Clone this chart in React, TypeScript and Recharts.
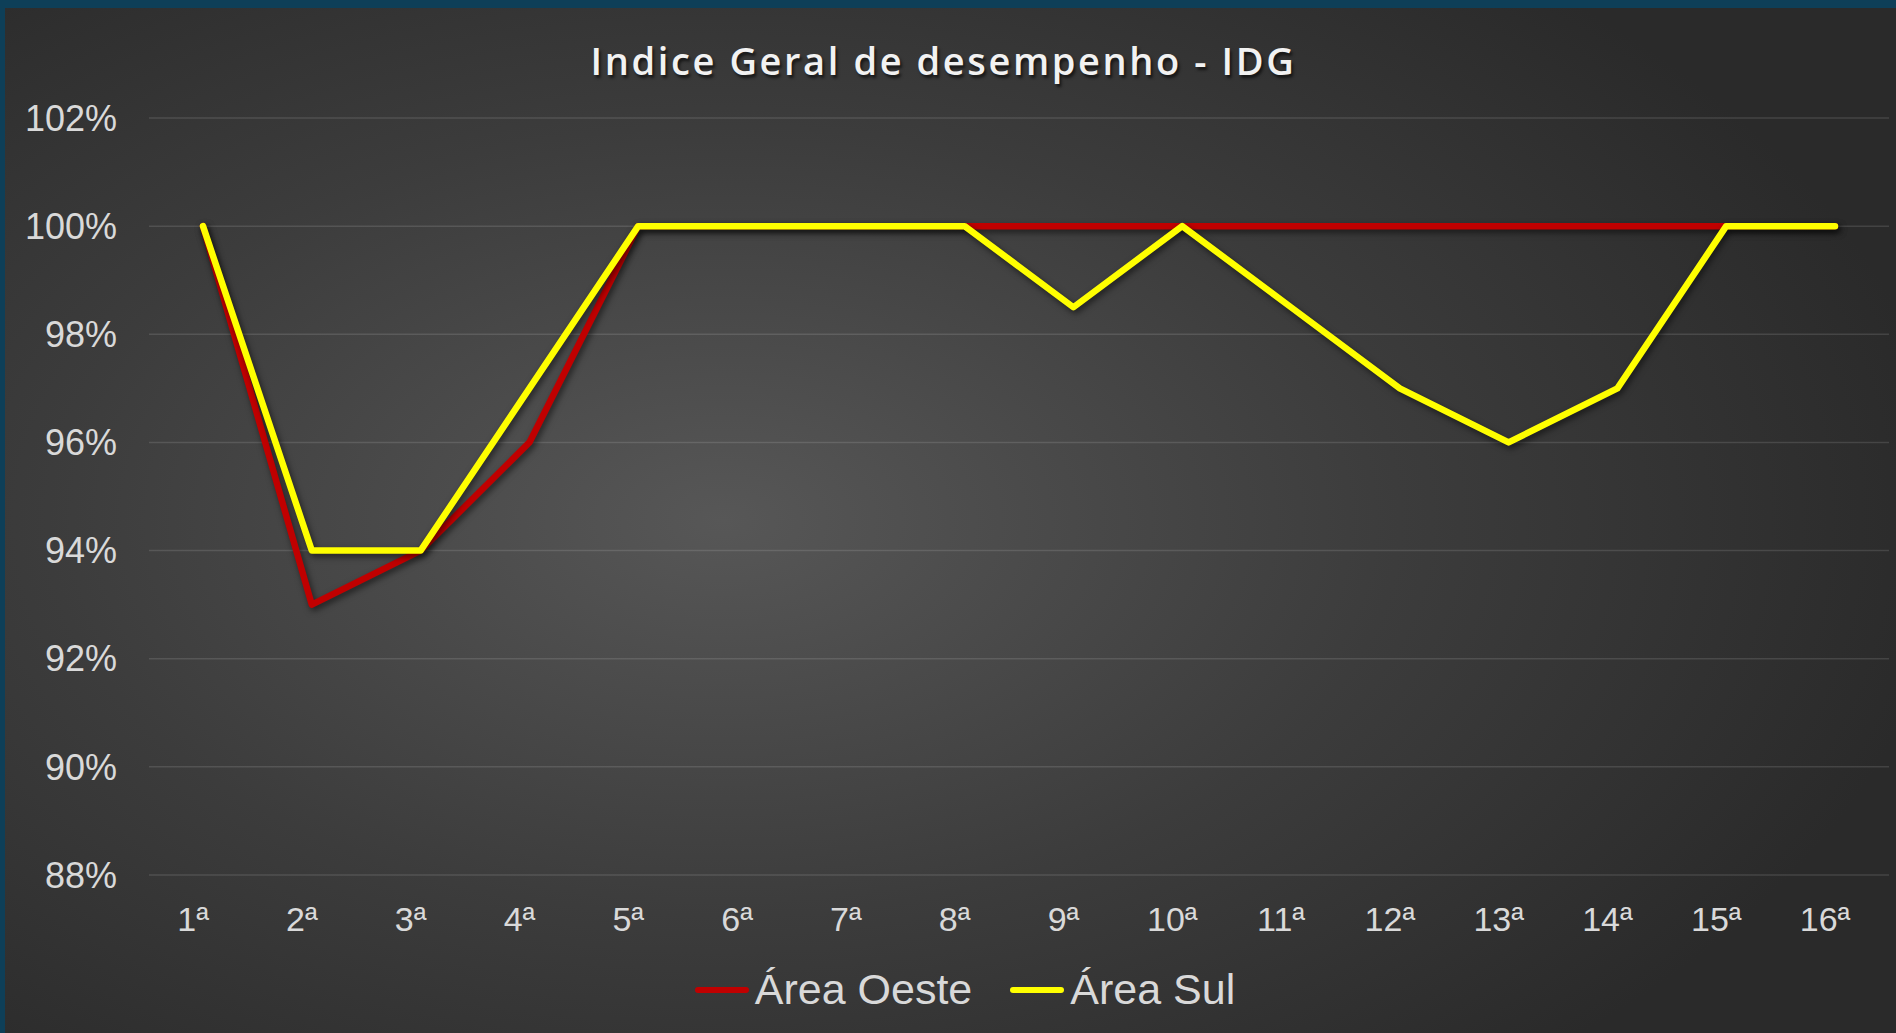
import React from "react";
import { LineChart, Line, XAxis, YAxis, CartesianGrid, Legend } from "recharts";

const categories = ["1ª", "2ª", "3ª", "4ª", "5ª", "6ª", "7ª", "8ª", "9ª", "10ª", "11ª", "12ª", "13ª", "14ª", "15ª", "16ª"];
const areaOeste = [100, 93, 94, 96, 100, 100, 100, 100, 100, 100, 100, 100, 100, 100, 100, 100];
const areaSul = [100, 94, 94, 97, 100, 100, 100, 100, 98.5, 100, 98.5, 97, 96, 97, 100, 100];
const yTicks = [88, 90, 92, 94, 96, 98, 100, 102];
const title = "Indice Geral de desempenho - IDG";

const data = categories.map((c, i) => ({ cat: c, oeste: areaOeste[i], sul: areaSul[i] }));

const W = 1891;
const H = 1025;

const XTick = (props: any) => {
  const { x, y, payload } = props;
  return (
    <text x={x - 10} y={y} dy="0.71em" textAnchor="middle" fill="#d9d9d9" fontSize={34} fontFamily="'Liberation Sans', Arial, sans-serif">
      {payload.value}
    </text>
  );
};

const LegendContent = (props: any) => {
  const { payload } = props;
  return (
    <div style={{ display: "flex", justifyContent: "center", alignItems: "center", gap: 38, paddingTop: 12, paddingLeft: 36 }}>
      {payload.map((p: any) => (
        <div key={p.value} style={{ display: "flex", alignItems: "center" }}>
          <div style={{ width: 54, height: 6, borderRadius: 3, background: p.color, marginRight: 6 }} />
          <span style={{ color: "#d9d9d9", fontSize: 43, fontFamily: "'Liberation Sans', Arial, sans-serif" }}>{p.value}</span>
        </div>
      ))}
    </div>
  );
};

export default function App() {
  return (
    <div style={{ position: "absolute", left: 0, top: 0, width: 1896, height: 1033, background: "#0e3f58", overflow: "hidden" }}>
      <style>{`.recharts-line-curve { filter: drop-shadow(2px 3px 3px rgba(0,0,0,0.55)); }`}</style>
      <div
        style={{
          position: "absolute",
          left: 5,
          top: 8,
          width: W,
          height: H,
          background: "radial-gradient(ellipse 65% 70% at 38% 50%, #575757 0%, #3c3c3c 55%, #2a2a2a 100%)",
        }}
      >
        <div
          style={{
            position: "absolute",
            left: 0,
            width: W - 14,
            top: 26,
            textAlign: "center",
            color: "#f2f2f2",
            fontFamily: "'Open Sans', sans-serif",
            fontWeight: 600,
            fontSize: 38,
            letterSpacing: 2.6,
            textShadow: "2px 3px 3px rgba(0,0,0,0.6)",
          }}
        >
          {title}
        </div>
        <LineChart width={W} height={H} data={data} margin={{ top: 110, right: 7, bottom: 0, left: 0 }}>
          <CartesianGrid vertical={false} stroke="rgba(255,255,255,0.12)" strokeWidth={1.5} />
          <XAxis
            dataKey="cat"
            axisLine={false}
            tickLine={false}
            tickSize={0}
            tickMargin={32}
            height={78}
            interval={0}
            padding={{ left: 54, right: 54 }}
            tick={<XTick />}
          />
          <YAxis
            domain={[88, 102]}
            ticks={yTicks}
            axisLine={false}
            tickLine={false}
            tickSize={0}
            tickMargin={32}
            width={144}
            tickFormatter={(v: number) => `${v}%`}
            tick={{ fill: "#d9d9d9", fontSize: 36, fontFamily: "'Liberation Sans', Arial, sans-serif" }}
          />
          <Legend verticalAlign="bottom" height={80} content={<LegendContent />} />
          <Line
            dataKey="oeste"
            name="Área Oeste"
            stroke="#c00000"
            strokeWidth={6.5}
            dot={false}
            strokeLinejoin="round"
            strokeLinecap="round"
            isAnimationActive={false}
          />
          <Line
            dataKey="sul"
            name="Área Sul"
            stroke="#ffff00"
            strokeWidth={6.5}
            dot={false}
            strokeLinejoin="round"
            strokeLinecap="round"
            isAnimationActive={false}
          />
        </LineChart>
      </div>
    </div>
  );
}
